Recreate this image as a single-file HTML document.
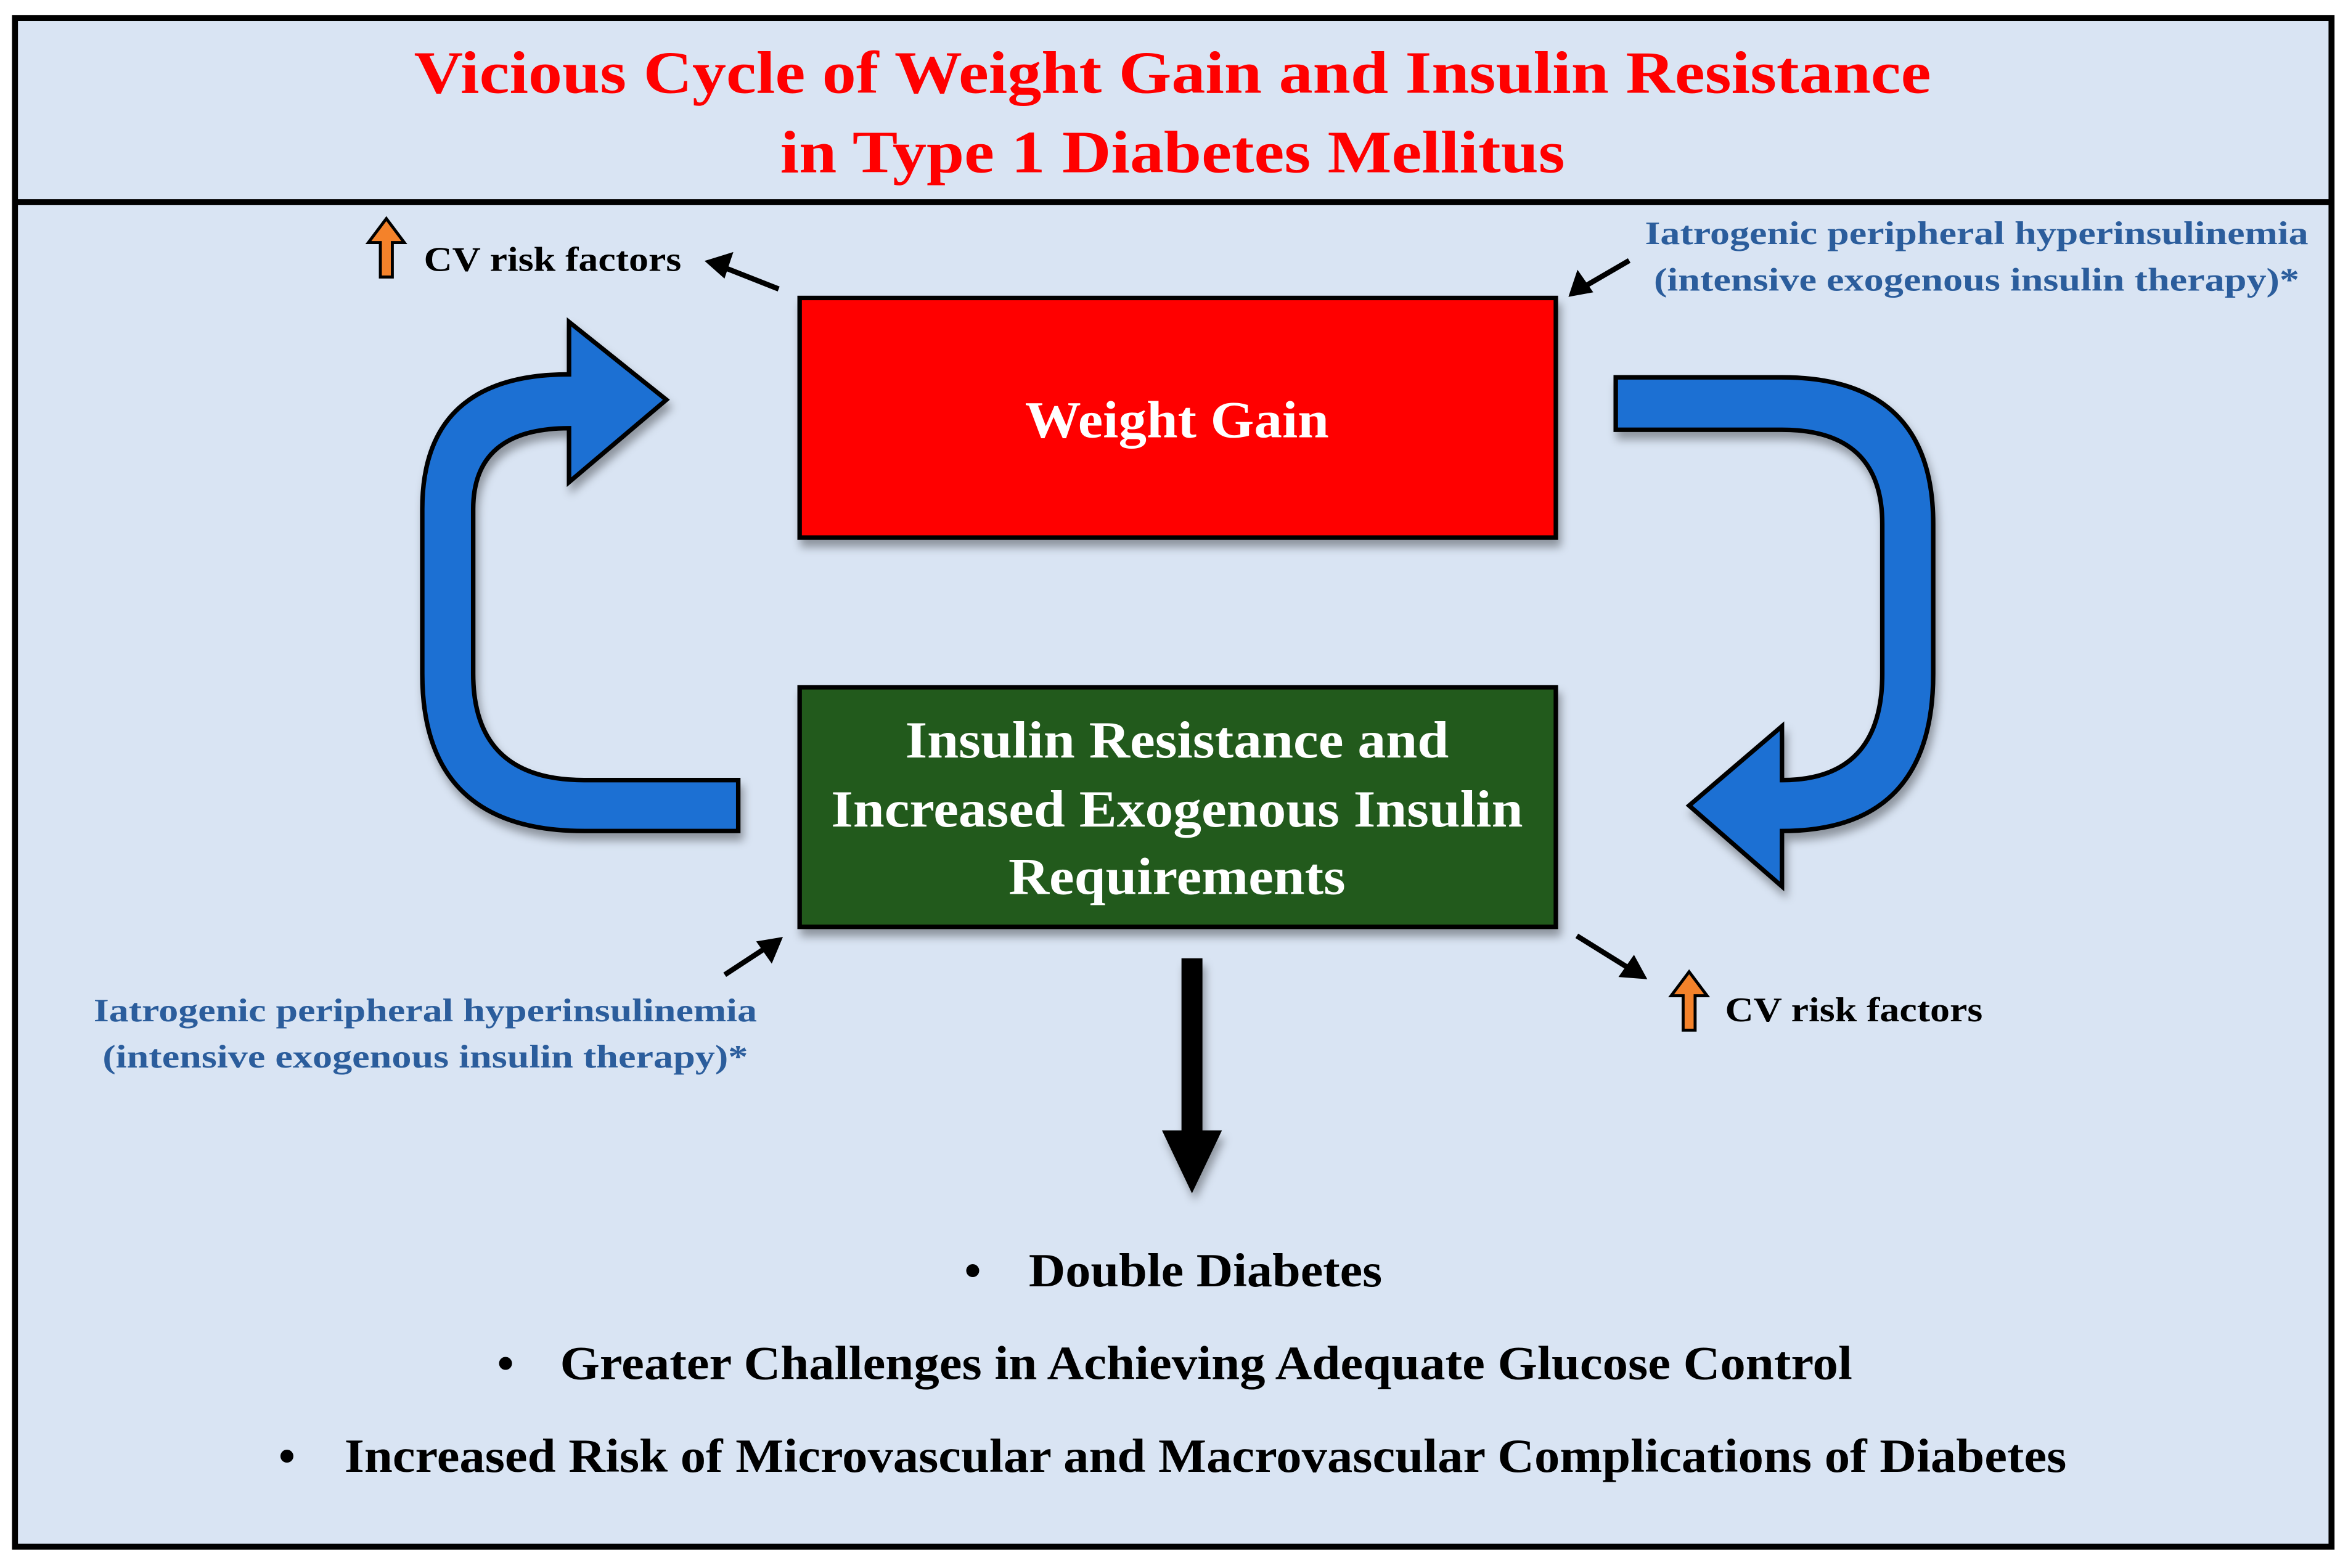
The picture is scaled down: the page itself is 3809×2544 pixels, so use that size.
<!DOCTYPE html>
<html><head><meta charset="utf-8"><style>
html,body{margin:0;padding:0;background:#fff;}
svg{display:block;}
text{font-family:"Liberation Serif","Times New Roman",serif;font-weight:bold;}
</style></head><body>
<svg width="3809" height="2544" viewBox="0 0 1568 1047.2" preserveAspectRatio="none" xmlns="http://www.w3.org/2000/svg" font-family="Liberation Serif, serif">
<defs>
<filter id="sh" x="-10%" y="-10%" width="130%" height="140%"><feDropShadow dx="2" dy="5" stdDeviation="3" flood-color="#000" flood-opacity="0.35"/></filter>
</defs>
<rect x="0" y="0" width="1568" height="1047.2" fill="#fff"/>
<rect x="10" y="12" width="1547" height="1021" fill="#d9e4f3" stroke="#000" stroke-width="4"/>
<line x1="10" y1="135" x2="1557" y2="135" stroke="#000" stroke-width="4"/>
<text x="783" y="62" fill="#ff0000" font-size="40" text-anchor="middle" textLength="1013" lengthAdjust="spacingAndGlyphs">Vicious Cycle of Weight Gain and Insulin Resistance</text>
<text x="783" y="115" fill="#ff0000" font-size="40" text-anchor="middle" textLength="524" lengthAdjust="spacingAndGlyphs">in Type 1 Diabetes Mellitus</text>

<rect x="534" y="199" width="505" height="160" fill="#ff0000" stroke="#000" stroke-width="3" filter="url(#sh)"/>
<text x="786" y="292" fill="#fff" font-size="35" text-anchor="middle" textLength="203" lengthAdjust="spacingAndGlyphs">Weight Gain</text>

<rect x="534" y="459" width="505" height="160" fill="#225a1a" stroke="#000" stroke-width="3" filter="url(#sh)"/>
<text x="786" y="506" fill="#fff" font-size="35" text-anchor="middle" textLength="363" lengthAdjust="spacingAndGlyphs">Insulin Resistance and</text>
<text x="786" y="552" fill="#fff" font-size="35" text-anchor="middle" textLength="462" lengthAdjust="spacingAndGlyphs">Increased Exogenous Insulin</text>
<text x="786" y="597" fill="#fff" font-size="35" text-anchor="middle" textLength="225" lengthAdjust="spacingAndGlyphs">Requirements</text>

<path d="M493,521 L390,521 Q316,521 316,450 L316,340 Q316,286 380,286 L380,322 L445,267 L380,215 L380,250 Q282,250 282,340 L282,450 Q282,555 390,555 L493,555 Z" fill="#1c6fd3" stroke="#000" stroke-width="3" filter="url(#sh)"/>
<path d="M1079,252 L1190,252 Q1291,252 1291,350 L1291,450 Q1291,555 1190,555 L1190,592 L1128,538 L1190,485 L1190,521 Q1257,521 1257,450 L1257,350 Q1257,287 1190,287 L1079,287 Z" fill="#1c6fd3" stroke="#000" stroke-width="3" filter="url(#sh)"/>

<path d="M789,640 L803,640 L803,755 L816,755 L796,797 L776,755 L789,755 Z" fill="#000" filter="url(#sh)"/>

<g stroke="#000" stroke-width="3.5" fill="#000">
<line x1="520" y1="193" x2="482" y2="178"/>
<path d="M474,175 L487,171 L483,183 Z"/>
<line x1="1088" y1="174" x2="1057" y2="192"/>
<path d="M1050,196 L1054,184 L1061,194 Z"/>
<line x1="484" y1="651" x2="513" y2="632"/>
<path d="M520,628 L515,640 L508,630 Z"/>
<line x1="1053" y1="625" x2="1090" y2="648"/>
<path d="M1097,652 L1084,651 L1091,641 Z"/>
</g>

<path d="M254,185 L254,162 L246,162 L258,146 L270,162 L262,162 L262,185 Z" fill="#f4822a" stroke="#000" stroke-width="2"/>
<path d="M1124,688 L1124,665 L1116,665 L1128,649 L1140,665 L1132,665 L1132,688 Z" fill="#f4822a" stroke="#000" stroke-width="2"/>
<text x="283" y="181" fill="#000" font-size="23" textLength="172" lengthAdjust="spacingAndGlyphs">CV risk factors</text>
<text x="1152" y="682" fill="#000" font-size="23" textLength="172" lengthAdjust="spacingAndGlyphs">CV risk factors</text>

<text x="1320" y="163" fill="#2b5d9c" font-size="22" text-anchor="middle" textLength="443" lengthAdjust="spacingAndGlyphs">Iatrogenic peripheral hyperinsulinemia</text>
<text x="1320" y="194" fill="#2b5d9c" font-size="22" text-anchor="middle" textLength="431" lengthAdjust="spacingAndGlyphs">(intensive exogenous insulin therapy)*</text>
<text x="284" y="682" fill="#2b5d9c" font-size="22" text-anchor="middle" textLength="443" lengthAdjust="spacingAndGlyphs">Iatrogenic peripheral hyperinsulinemia</text>
<text x="284" y="713" fill="#2b5d9c" font-size="22" text-anchor="middle" textLength="431" lengthAdjust="spacingAndGlyphs">(intensive exogenous insulin therapy)*</text>

<text x="644" y="859" fill="#000" font-size="32">•</text>
<text x="687" y="859" fill="#000" font-size="32" textLength="236" lengthAdjust="spacingAndGlyphs">Double Diabetes</text>
<text x="332" y="921" fill="#000" font-size="32">•</text>
<text x="374" y="921" fill="#000" font-size="32" textLength="863" lengthAdjust="spacingAndGlyphs">Greater Challenges in Achieving Adequate Glucose Control</text>
<text x="186" y="983" fill="#000" font-size="32">•</text>
<text x="230" y="983" fill="#000" font-size="32" textLength="1150" lengthAdjust="spacingAndGlyphs">Increased Risk of Microvascular and Macrovascular Complications of Diabetes</text>
</svg>
</body></html>
